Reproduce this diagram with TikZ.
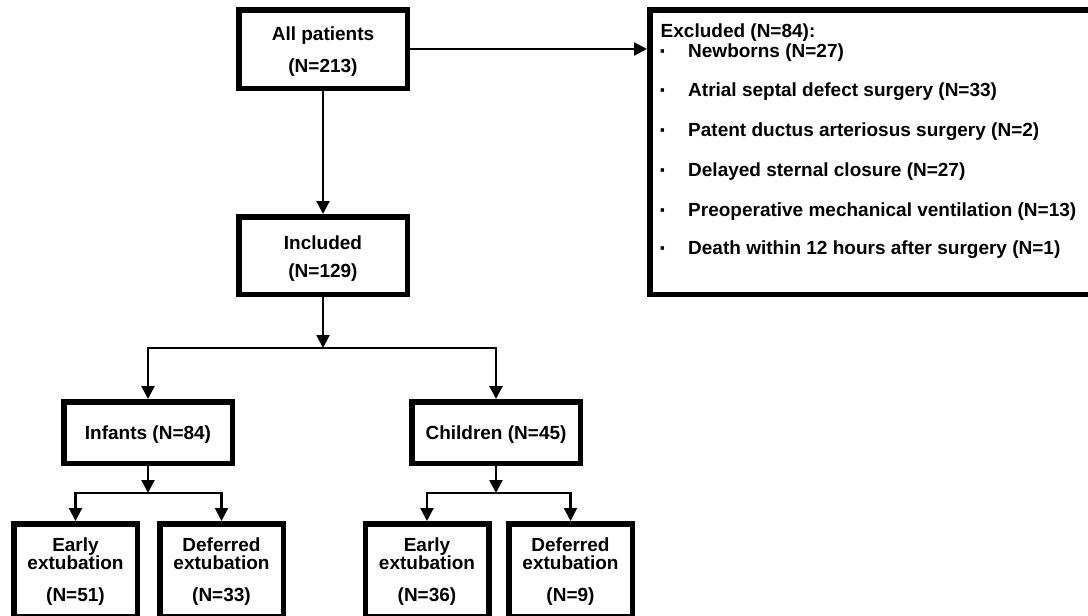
\documentclass[tikz,border=0pt]{standalone}
\usepackage{fontspec}
\setmainfont{Liberation Sans}
\usetikzlibrary{arrows.meta}
\newcommand{\bulletdot}{\makebox[29pt][l]{\raisebox{-2pt}{\fontsize{24}{24}\selectfont ·}}}
\begin{document}
\begin{tikzpicture}[x=1pt,y=-1pt,
  box/.style={draw=black, line width=5.5pt, inner sep=0pt, fill=none},
  conn/.style={draw=black, line width=2.2pt, line join=miter, -{Triangle[length=13pt,width=13pt]}},
  txt/.style={font=\fontsize{19}{22}\selectfont\bfseries, inner sep=0pt, anchor=base},
  lt/.style={txt, anchor=base west}]
\useasboundingbox (0,0) rectangle (1088,616);
\clip (0,0) rectangle (1088,616);
\fill[white] (0,0) rectangle (1088,616);

% boxes
\node[box, minimum width=168.5pt, minimum height=78.5pt] (allp) at (323,49) {};
\node[box, minimum width=168.5pt, minimum height=77.5pt] (incl) at (323,255.5) {};
\node[box, minimum width=442.5pt, minimum height=284.5pt] (excl) at (871,152) {};
\node[box, minimum width=168.5pt, minimum height=61.5pt] (inf) at (148,432.5) {};
\node[box, minimum width=168.5pt, minimum height=61.5pt] (chi) at (496,432.5) {};
\node[box, minimum width=123.5pt, minimum height=92.5pt] (e1) at (75.5,570) {};
\node[box, minimum width=123.5pt, minimum height=92.5pt] (d1) at (221.5,570) {};
\node[box, minimum width=123.5pt, minimum height=92.5pt] (e2) at (427,570) {};
\node[box, minimum width=123.5pt, minimum height=92.5pt] (d2) at (570.5,570) {};

% texts
\node[txt] (tallp1) at (323,40) {All patients};
\node[txt] (tallp2) at (323,72) {(N=213)};
\node[txt] (tincl1) at (323,249) {Included};
\node[txt] (tincl2) at (323,277) {(N=129)};
\node[txt] (tinf) at (148,439) {Infants (N=84)};
\node[txt] (tchi) at (496,439) {Children (N=45)};

\node[txt] (te1a) at (75.5,551.5) {Early};
\node[txt] (te1b) at (75.5,569) {extubation};
\node[txt] (te1c) at (75.5,601) {(N=51)};
\node[txt] (td1a) at (221.5,551.5) {Deferred};
\node[txt] (td1b) at (221.5,569) {extubation};
\node[txt] (td1c) at (221.5,601) {(N=33)};
\node[txt] (te2a) at (427,551.5) {Early};
\node[txt] (te2b) at (427,569) {extubation};
\node[txt] (te2c) at (427,601) {(N=36)};
\node[txt] (td2a) at (570.5,551.5) {Deferred};
\node[txt] (td2b) at (570.5,569) {extubation};
\node[txt] (td2c) at (570.5,601) {(N=9)};

\node[lt] (tx0) at (660.5,37) {Excluded (N=84):};
\node[lt] (tx1) at (659,57.5) {\bulletdot Newborns (N=27)};
\node[lt] (tx2) at (659,96) {\bulletdot Atrial septal defect surgery (N=33)};
\node[lt] (tx3) at (659,136) {\bulletdot Patent ductus arteriosus surgery (N=2)};
\node[lt] (tx4) at (659,176) {\bulletdot Delayed sternal closure (N=27)};
\node[lt] (tx5) at (659,216) {\bulletdot Preoperative mechanical ventilation (N=13)};
\node[lt] (tx6) at (659,254) {\bulletdot Death within 12 hours after surgery (N=1)};

% connectors
\draw[conn] (allp.east) -- (allp.east -| excl.west);
\draw[conn] (allp.south) -- (incl.north);

\coordinate (j1) at (323,348);
\draw[conn] (incl.south) -- (j1);
\draw[conn] (j1) -| (inf.north);
\draw[conn] (j1) -| (chi.north);

\coordinate (j2) at (148,493);
\draw[conn] (inf.south) -- (j2);
\draw[conn] (j2) -| (e1.north);
\draw[conn] (j2) -| (d1.north);

\coordinate (j3) at (496,493);
\draw[conn] (chi.south) -- (j3);
\draw[conn] (j3) -| (e2.north);
\draw[conn] (j3) -| (d2.north);
\end{tikzpicture}
\end{document}
